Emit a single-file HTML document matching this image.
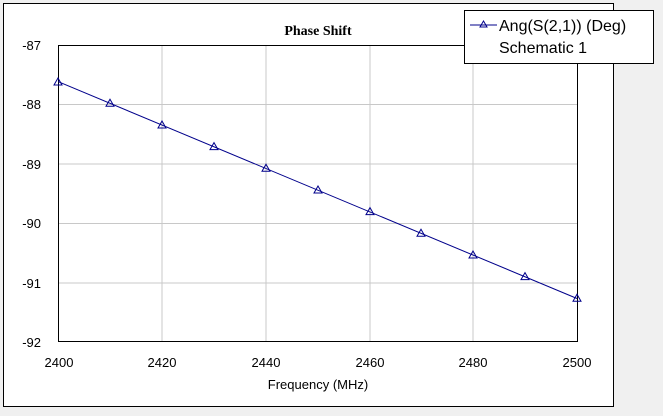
<!DOCTYPE html>
<html><head><style>body{margin:0;background:#f0f0f0}</style></head><body>
<svg width="663" height="411" xmlns="http://www.w3.org/2000/svg" font-family="Liberation Sans, Arial, sans-serif">
<rect x="0" y="0" width="663" height="411" fill="#f0f0f0"/>
<rect x="3.5" y="3.5" width="610" height="403" fill="#fff" stroke="#000"/>
<g stroke="#c8c8c8" stroke-width="1">
<line x1="162" y1="45" x2="162" y2="342"/><line x1="266" y1="45" x2="266" y2="342"/>
<line x1="370" y1="45" x2="370" y2="342"/><line x1="473" y1="45" x2="473" y2="342"/>
<line x1="58" y1="104.5" x2="577" y2="104.5"/><line x1="58" y1="164" x2="577" y2="164"/>
<line x1="58" y1="223.5" x2="577" y2="223.5"/><line x1="58" y1="283" x2="577" y2="283"/>
</g>
<rect x="58.5" y="45.5" width="519" height="296" fill="none" stroke="#000"/>
<text x="318" y="35" font-family="Liberation Serif, serif" font-weight="bold" font-size="14" text-anchor="middle">Phase Shift</text>
<g font-size="13" text-anchor="end">
<text x="41" y="50">-87</text><text x="41" y="109">-88</text><text x="41" y="169">-89</text>
<text x="41" y="228">-90</text><text x="41" y="288">-91</text><text x="41" y="347">-92</text>
</g>
<g font-size="13" text-anchor="middle">
<text x="59" y="367">2400</text><text x="162" y="367">2420</text><text x="266" y="367">2440</text>
<text x="370" y="367">2460</text><text x="473" y="367">2480</text><text x="577" y="367">2500</text>
<text x="318" y="389">Frequency (MHz)</text>
</g>
<line x1="58" y1="81.6" x2="577" y2="298.5" stroke="#00008b" stroke-width="1"/>
<g fill="none" stroke="#00008b" stroke-width="1">
<path d="M58,78l-4,7h8z"/><path d="M110,99.3l-4,7h8z"/><path d="M162,121l-4,7h8z"/>
<path d="M214,142.6l-4,7h8z"/><path d="M266,164.3l-4,7h8z"/><path d="M318,186l-4,7h8z"/>
<path d="M370,207.6l-4,7h8z"/><path d="M421,229.3l-4,7h8z"/><path d="M473,251l-4,7h8z"/>
<path d="M525,272.6l-4,7h8z"/><path d="M577,294.3l-4,7h8z"/>
</g>
<rect x="464.5" y="10.5" width="189" height="53" fill="#fff" stroke="#000"/>
<line x1="470" y1="25" x2="497" y2="25" stroke="#00008b"/>
<path d="M483.5,21l-3.5,6h7z" fill="none" stroke="#00008b"/>
<text x="499" y="31" font-size="16">Ang(S(2,1)) (Deg)</text>
<text x="499" y="53" font-size="16">Schematic 1</text>
</svg>
</body></html>
